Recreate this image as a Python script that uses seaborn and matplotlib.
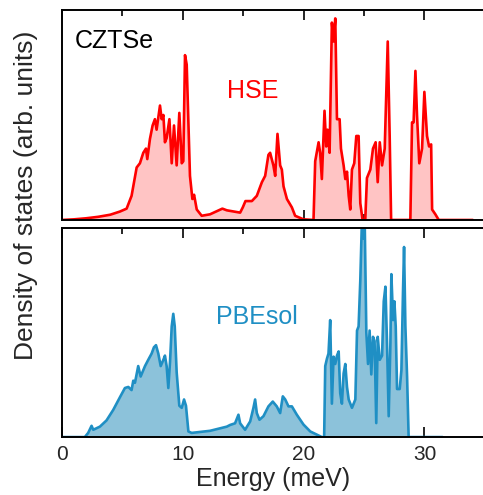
import numpy as np
import pandas as pd
import matplotlib
matplotlib.use('Agg')
import matplotlib.pyplot as plt
import seaborn as sns
from matplotlib.ticker import MultipleLocator

# HSE density of states (arb. units)
hse_energy = [0, 1, 2, 3, 4, 4.8, 5.36, 5.77, 6.19, 6.46, 6.74, 6.96, 7.07, 7.29, 7.51, 7.7,
              7.84, 8.12, 8.26, 8.4, 8.53, 8.67, 8.9, 9.09, 9.28, 9.5, 9.72, 9.92, 10.05,
              10.19, 10.33, 10.6, 10.8, 10.94, 11.16, 11.57, 12.26, 13.28, 13.65, 14.75,
              14.97, 15.19, 15.72, 16.13, 16.55, 16.82, 17.09, 17.23, 17.5, 17.65, 17.84,
              18.06, 18.2, 18.34, 18.62, 19.03, 19.3, 19.99, 20.82, 20.96, 21.24, 21.37,
              21.51, 21.73, 21.87, 21.98, 22.15, 22.34, 22.48, 22.62, 22.76, 22.98, 23.09,
              23.31, 23.45, 23.59, 23.73, 23.86, 24.0, 24.19, 24.36, 24.55, 24.69, 24.88,
              25.1, 25.24, 25.52, 25.74, 25.96, 26.13, 26.3, 26.49, 26.71, 26.96, 27.12,
              27.24, 28.83, 28.97, 29.1, 29.25, 29.38, 29.57, 29.8, 29.99, 30.21, 30.38,
              30.55, 30.63, 30.9, 31.18, 34.0]
hse_dos = [0, 0.003, 0.008, 0.015, 0.025, 0.04, 0.054, 0.115, 0.25, 0.27, 0.32, 0.34, 0.29,
           0.386, 0.45, 0.48, 0.43, 0.545, 0.48, 0.5, 0.37, 0.39, 0.48, 0.27, 0.45, 0.26,
           0.51, 0.27, 0.28, 0.785, 0.74, 0.21, 0.1, 0.12, 0.05, 0.02, 0.027, 0.054, 0.046,
           0.035, 0.06, 0.09, 0.09, 0.115, 0.18, 0.21, 0.31, 0.32, 0.26, 0.21, 0.41, 0.26,
           0.24, 0.16, 0.1, 0.06, 0.02, 0.003, 0.0, 0.28, 0.37, 0.32, 0.195, 0.52, 0.35,
           0.43, 0.32, 0.94, 0.85, 0.96, 0.48, 0.48, 0.34, 0.26, 0.195, 0.23, 0.115, 0.05,
           0.24, 0.27, 0.4, 0.4, 0.08, 0.0, 0.0, 0.2, 0.24, 0.34, 0.37, 0.18, 0.37, 0.26,
           0.34, 0.85, 0.4, 0.0, 0.0, 0.465, 0.465, 0.71, 0.5, 0.27, 0.34, 0.61, 0.4, 0.35,
           0.36, 0.05, 0.027, 0.0, 0.0]

# PBEsol density of states
pbe_energy = [0, 1.9, 2.18, 2.46, 2.6, 3.15, 3.7, 4.25, 4.8, 5.22, 5.5, 5.77, 5.91, 6.05,
              6.32, 6.52, 6.88, 7.15, 7.43, 7.62, 7.79, 7.98, 8.18, 8.4, 8.53, 8.67, 8.81,
              8.95, 9.09, 9.22, 9.34, 9.5, 9.72, 9.92, 10.11, 10.27, 10.47, 10.74, 12.26,
              13.65, 13.92, 14.33, 14.61, 14.75, 15.16, 15.58, 15.85, 15.99, 16.13, 16.35,
              16.68, 17.09, 17.45, 17.78, 18.06, 18.28, 18.48, 18.75, 19.03, 19.44, 19.72,
              19.99, 20.55, 21.51, 21.7, 21.79, 21.93, 22.06, 22.2, 22.34, 22.48, 22.62,
              22.76, 22.9, 23.03, 23.17, 23.31, 23.45, 23.59, 23.73, 24.0, 24.28, 24.42,
              24.55, 24.69, 24.83, 24.97, 25.05, 25.19, 25.33, 25.46, 25.6, 25.74, 25.87,
              26.01, 26.13, 26.3, 26.49, 26.63, 26.77, 26.9, 27.04, 27.18, 27.26, 27.4,
              27.51, 27.62, 27.73, 27.95, 28.09, 28.22, 28.31, 28.42, 28.56, 28.69, 31.5]
pbe_dos = [0, 0.0, 0.02, 0.054, 0.035, 0.05, 0.08, 0.13, 0.19, 0.235, 0.24, 0.225, 0.27,
           0.26, 0.34, 0.29, 0.34, 0.37, 0.4, 0.43, 0.44, 0.4, 0.34, 0.37, 0.39, 0.34,
           0.235, 0.36, 0.53, 0.59, 0.53, 0.31, 0.15, 0.14, 0.18, 0.15, 0.027, 0.02, 0.03,
           0.05, 0.058, 0.066, 0.107, 0.066, 0.035, 0.075, 0.14, 0.18, 0.115, 0.083, 0.1,
           0.147, 0.17, 0.147, 0.115, 0.195, 0.18, 0.147, 0.147, 0.107, 0.083, 0.06, 0.027,
           0.0, 0.0, 0.34, 0.375, 0.4, 0.56, 0.16, 0.385, 0.35, 0.39, 0.41, 0.21, 0.16,
           0.305, 0.35, 0.24, 0.18, 0.14, 0.18, 0.51, 0.53, 0.75, 1.05, 0.95, 1.05, 0.5,
           0.35, 0.51, 0.3, 0.48, 0.46, 0.067, 0.48, 0.37, 0.39, 0.65, 0.72, 0.45, 0.1,
           0.45, 0.78, 0.56, 0.65, 0.53, 0.23, 0.23, 0.32, 0.69, 0.91, 0.53, 0.29, 0.0, 0.0]

red_line, red_fill = '#ff0000', '#ffc4c4'
blue_line, blue_fill = '#1f8fc4', '#8cc2da'

sns.set_style('ticks')
plt.rcParams['font.family'] = ['Liberation Sans', 'DejaVu Sans']
plt.rcParams['font.size'] = 15

fig = plt.figure(figsize=(4.83, 4.95), dpi=100)
ax_top = fig.add_axes([0.128, 0.5556, 0.876, 0.4242])
ax_bot = fig.add_axes([0.128, 0.117, 0.876, 0.422])

panels = [
    (ax_top, hse_energy, hse_dos, red_line, red_fill),
    (ax_bot, pbe_energy, pbe_dos, blue_line, blue_fill),
]
for ax, e, d, lc, fc in panels:
    df = pd.DataFrame({'energy': e, 'dos': d})
    ax.fill_between(df['energy'], 0, df['dos'], color=fc, linewidth=0)
    sns.lineplot(data=df, x='energy', y='dos', ax=ax, color=lc, linewidth=1.9)
    ax.set_xlim(0, 35)
    ax.set_ylim(0, 1.0)
    ax.set_yticks([])
    ax.set_xlabel('')
    ax.set_ylabel('')
    ax.xaxis.set_major_locator(MultipleLocator(10))
    ax.xaxis.set_minor_locator(MultipleLocator(5))
    ax.tick_params(axis='x', which='major', direction='in', length=7, width=1.4,
                   top=True, bottom=True, labelsize=15, pad=6)
    ax.tick_params(axis='x', which='minor', direction='in', length=4, width=1.4,
                   top=True, bottom=True)
    for s in ax.spines.values():
        s.set_linewidth(1.4)
        s.set_color('black')

ax_top.tick_params(axis='x', which='both', labelbottom=False)

ax_top.text(0.031, 0.85, 'CZTSe', transform=ax_top.transAxes, ha='left', va='center',
            fontsize=18, color='black')
ax_top.text(15.8, 0.614, 'HSE', ha='center', va='center', fontsize=18, color=red_line)
ax_bot.text(16.1, 0.574, 'PBEsol', ha='center', va='center', fontsize=18, color=blue_line)

ax_bot.set_xlabel('Energy (meV)', fontsize=18, labelpad=2)
fig.text(0.054, 0.605, 'Density of states (arb. units)', rotation=90, ha='center',
         va='center', fontsize=19)

fig.savefig('out.png', dpi=100)
